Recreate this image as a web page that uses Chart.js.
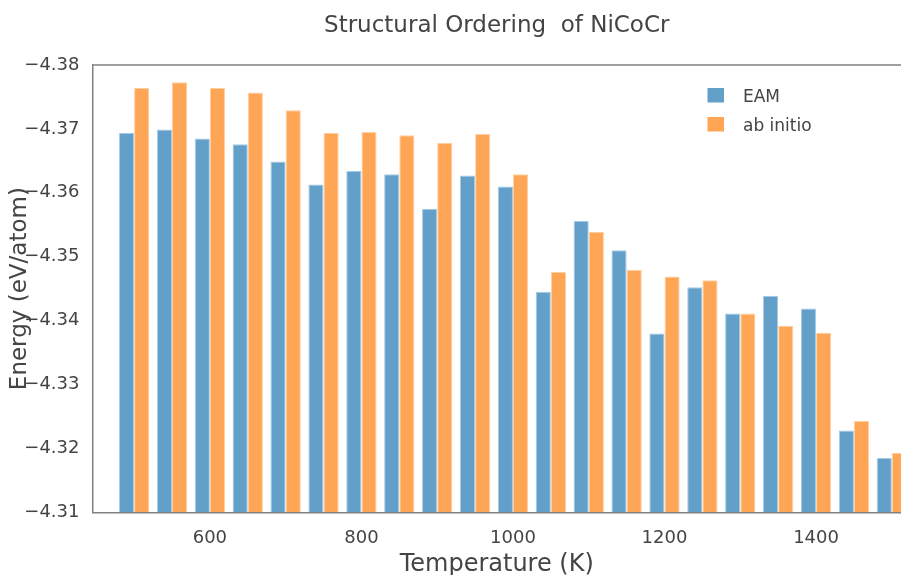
<!DOCTYPE html>
<html>
<head>
<meta charset="utf-8">
<title>Structural Ordering of NiCoCr</title>
<script src="https://cdn.jsdelivr.net/npm/chart.js@4.4.1/dist/chart.umd.min.js"></script>
<style>
  html, body { margin: 0; padding: 0; background: #ffffff; overflow: hidden; }
  #wrap { width: 901px; height: 575px; overflow: hidden; }
  canvas { display: block; }
</style>
</head>
<body>
<div id="wrap"><canvas id="chart" width="901" height="590"></canvas></div>
<script>
// Annealing temperatures (K)
const temperatures = [500, 550, 600, 650, 700, 750, 800, 850, 900, 950, 1000,
                      1050, 1100, 1150, 1200, 1250, 1300, 1350, 1400, 1450, 1500];

// Average energy per atom (eV/atom)
const eamEnergy = [-4.3694, -4.3699, -4.3685, -4.3676, -4.3649, -4.3613, -4.3634,
                   -4.3629, -4.3575, -4.3627, -4.3610, -4.3445, -4.3556, -4.3510,
                   -4.3380, -4.3452, -4.3411, -4.3439, -4.3419, -4.3228, -4.3185];
const abInitioEnergy = [-4.3764, -4.3773, -4.3764, -4.3757, -4.3729, -4.3694, -4.3695,
                        -4.3690, -4.3678, -4.3692, -4.3629, -4.3476, -4.3539, -4.3479,
                        -4.3469, -4.3463, -4.3411, -4.3392, -4.3381, -4.3243, -4.3193];

// Axis ticks
const temperatureTicks = [600, 800, 1000, 1200, 1400];
const energyTicks = [-4.38, -4.37, -4.36, -4.35, -4.34, -4.33, -4.32, -4.31];

const FONT = "'DejaVu Sans', Verdana, sans-serif";
const TEXT_COLOR = '#444444';
const AXIS_COLOR = '#808080';

const toPoints = values => temperatures.map((t, i) => ({ x: t, y: values[i] }));

// Closing line along the top edge of the plot area
const topFrame = {
  id: 'topFrame',
  afterDraw(chart) {
    const { ctx, chartArea } = chart;
    ctx.save();
    ctx.strokeStyle = AXIS_COLOR;
    ctx.lineWidth = 1.5;
    ctx.beginPath();
    ctx.moveTo(chartArea.left, chartArea.top);
    ctx.lineTo(chartArea.right, chartArea.top);
    ctx.stroke();
    ctx.restore();
  }
};

// Legend drawn inside the plot, upper right
const insideLegend = {
  id: 'insideLegend',
  afterDraw(chart) {
    const { ctx, chartArea } = chart;
    const x0 = chartArea.right - 193.5;
    ctx.save();
    chart.data.datasets.forEach((ds, i) => {
      const y = chartArea.top + 23 + i * 29;
      ctx.fillStyle = ds.backgroundColor;
      ctx.fillRect(x0, y, 16.5, 14.5);
      ctx.fillStyle = TEXT_COLOR;
      ctx.font = '17px ' + FONT;
      ctx.textBaseline = 'alphabetic';
      ctx.textAlign = 'left';
      ctx.fillText(ds.label, x0 + 35.5, y + 14.3);
    });
    ctx.restore();
  }
};

const barStyle = {
  borderWidth: 1,
  borderSkipped: 'start',
  base: energyTicks[energyTicks.length - 1],
  categoryPercentage: 0.8,
  barPercentage: 1.0
};

new Chart(document.getElementById('chart'), {
  type: 'bar',
  data: {
    datasets: [
      Object.assign({ label: 'EAM', data: toPoints(eamEnergy),
                      backgroundColor: '#62a0ca', borderColor: '#a8cae4' }, barStyle),
      Object.assign({ label: 'ab initio', data: toPoints(abInitioEnergy),
                      backgroundColor: '#ffa556', borderColor: '#ffcf9f' }, barStyle)
    ]
  },
  options: {
    responsive: false,
    animation: false,
    devicePixelRatio: 1,
    layout: { padding: 0 },
    plugins: {
      legend: { display: false },
      tooltip: { enabled: false },
      title: {
        display: true,
        text: 'Structural Ordering  of NiCoCr',
        fullSize: false,
        color: TEXT_COLOR,
        font: { family: FONT, size: 23, weight: 'normal' },
        padding: { top: 12.5, bottom: 24.9 }
      }
    },
    scales: {
      x: {
        type: 'linear',
        offset: false,
        min: 445.1,
        max: 1512.1,
        grid: { display: false, offset: false },
        border: { display: true, color: AXIS_COLOR, width: 1.5 },
        afterBuildTicks: scale => { scale.ticks = temperatureTicks.map(v => ({ value: v })); },
        afterFit: scale => { scale.height = 77.7; },
        ticks: {
          color: TEXT_COLOR,
          font: { family: FONT, size: 18 },
          padding: 7,
          maxRotation: 0,
          callback: v => String(v)
        },
        title: {
          display: true,
          text: 'Temperature (K)',
          color: TEXT_COLOR,
          font: { family: FONT, size: 24 },
          padding: { top: 0, bottom: 11 }
        }
      },
      y: {
        type: 'linear',
        reverse: true,
        min: energyTicks[0],
        max: energyTicks[energyTicks.length - 1],
        grid: { display: false },
        border: { display: true, color: AXIS_COLOR, width: 1.5 },
        afterBuildTicks: scale => { scale.ticks = energyTicks.map(v => ({ value: v })); },
        afterFit: scale => { scale.width = 92.5; },
        ticks: {
          color: TEXT_COLOR,
          font: { family: FONT, size: 18 },
          padding: 5,
          callback: v => (v < 0 ? '\u2212' : '') + Math.abs(v).toFixed(2)
        },
        title: {
          display: true,
          text: 'Energy (eV/atom)',
          color: TEXT_COLOR,
          font: { family: FONT, size: 23 },
          padding: { top: 6, bottom: 0 }
        }
      }
    }
  },
  plugins: [topFrame, insideLegend]
});
</script>
</body>
</html>
